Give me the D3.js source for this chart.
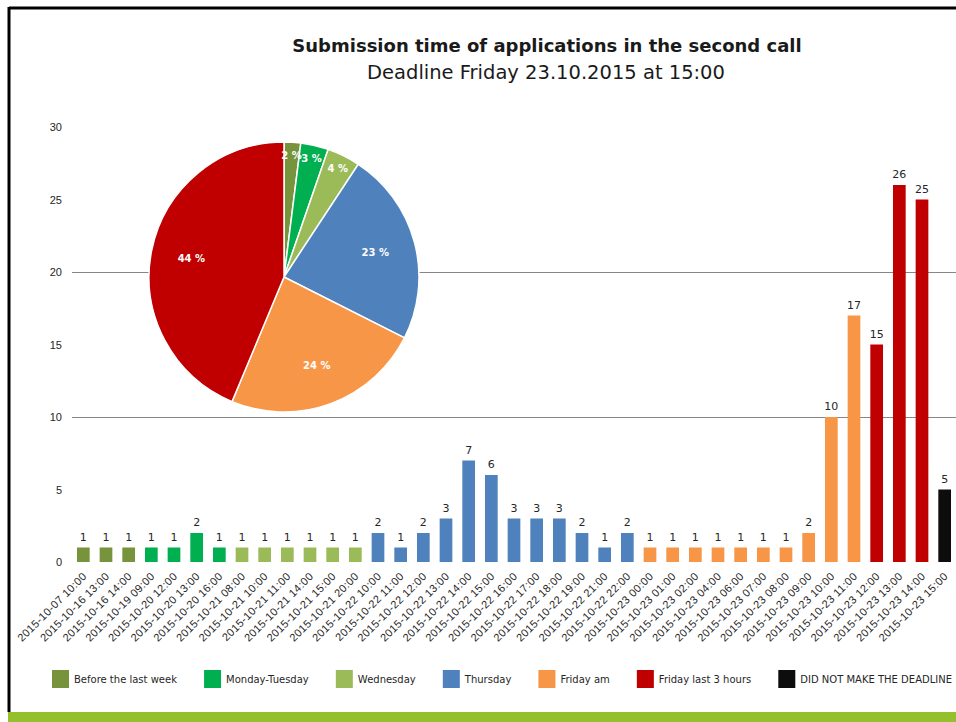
<!DOCTYPE html>
<html>
<head>
<meta charset="utf-8">
<script src="https://cdn.jsdelivr.net/npm/d3@7"></script>
<style>
  body { margin: 0; background: #fff; }
  svg { display: block; font-family: "DejaVu Sans", sans-serif; }
</style>
</head>
<body>
<div id="chartDIV"></div>
<script>

// bar data, one entry per submission hour
const categories = [
  "2015-10-07 10:00", "2015-10-16 13:00", "2015-10-16 14:00",
  "2015-10-19 09:00", "2015-10-20 12:00", "2015-10-20 13:00", "2015-10-20 16:00",
  "2015-10-21 08:00", "2015-10-21 10:00", "2015-10-21 11:00", "2015-10-21 14:00",
  "2015-10-21 15:00", "2015-10-21 20:00",
  "2015-10-22 10:00", "2015-10-22 11:00", "2015-10-22 12:00", "2015-10-22 13:00",
  "2015-10-22 14:00", "2015-10-22 15:00", "2015-10-22 16:00", "2015-10-22 17:00",
  "2015-10-22 18:00", "2015-10-22 19:00", "2015-10-22 21:00", "2015-10-22 22:00",
  "2015-10-23 00:00", "2015-10-23 01:00", "2015-10-23 02:00", "2015-10-23 04:00",
  "2015-10-23 06:00", "2015-10-23 07:00", "2015-10-23 08:00", "2015-10-23 09:00",
  "2015-10-23 10:00", "2015-10-23 11:00",
  "2015-10-23 12:00", "2015-10-23 13:00", "2015-10-23 14:00",
  "2015-10-23 15:00"
];
const counts = [
  1, 1, 1,
  1, 1, 2, 1,
  1, 1, 1, 1, 1, 1,
  2, 1, 2, 3, 7, 6, 3, 3, 3, 2, 1, 2,
  1, 1, 1, 1, 1, 1, 1, 2, 10, 17,
  15, 26, 25,
  5
];
const barGroup = [
  0, 0, 0,
  1, 1, 1, 1,
  2, 2, 2, 2, 2, 2,
  3, 3, 3, 3, 3, 3, 3, 3, 3, 3, 3, 3,
  4, 4, 4, 4, 4, 4, 4, 4, 4, 4,
  5, 5, 5,
  6
];

const groups = [
  "Before the last week", "Monday-Tuesday", "Wednesday", "Thursday",
  "Friday am", "Friday last 3 hours", "DID NOT MAKE THE DEADLINE"
];
const groupColors = ["#77933c", "#00b050", "#9bbb59", "#4f81bd", "#f79646", "#c00000", "#0d0d0d"];

const yTicks = [0, 5, 10, 15, 20, 25, 30];
const gridTicks = [10, 20];

const width = 956, height = 722;

let svg = d3.select("#chartDIV")
  .append("svg")
  .attr("width", width)
  .attr("height", height);

let x = d3.scaleBand().domain(categories).range([72, 956]).paddingInner(0.44).paddingOuter(0.22);
let y = d3.scaleLinear().domain([0, 30]).range([562, 127]);
let color = d3.scaleOrdinal().domain(d3.range(groups.length)).range(groupColors);

// frame
svg.append("rect").attr("x", 0).attr("y", 0).attr("width", width).attr("height", height).attr("fill", "#fff");
svg.append("line").attr("x1", 9).attr("x2", width).attr("y1", 8).attr("y2", 8)
  .attr("stroke", "#000").attr("stroke-width", 3);
svg.append("line").attr("x1", 9).attr("x2", 9).attr("y1", 7).attr("y2", 712)
  .attr("stroke", "#000").attr("stroke-width", 3);
svg.append("rect").attr("x", 8).attr("y", 712).attr("width", width - 8).attr("height", 10)
  .attr("fill", "#93c02b");

// titles
svg.append("text")
  .attr("x", 547).attr("y", 52)
  .attr("text-anchor", "middle")
  .style("font-size", "18px").style("font-weight", "bold").attr("fill", "#1a1a1a")
  .text("Submission time of applications in the second call");
svg.append("text")
  .attr("x", 546).attr("y", 79)
  .attr("text-anchor", "middle")
  .style("font-size", "19.5px").attr("fill", "#1a1a1a")
  .text("Deadline Friday 23.10.2015 at 15:00");

// gridlines
svg.append("g")
  .selectAll("line")
  .data(gridTicks)
  .enter()
  .append("line")
  .attr("x1", 72).attr("x2", 956)
  .attr("y1", d => Math.round(y(d)) + 0.5).attr("y2", d => Math.round(y(d)) + 0.5)
  .attr("stroke", "#868686");

// y axis labels only
let yAxis = svg.append("g")
  .attr("transform", "translate(62,0)")
  .call(d3.axisLeft(y).tickValues(yTicks).tickSize(0).tickPadding(0));
yAxis.select(".domain").remove();
yAxis.selectAll("text").style("font-size", "11px").attr("fill", "#262626").attr("font-family", null);

// x axis labels
let xAxis = svg.append("g")
  .attr("transform", "translate(0,562)")
  .call(d3.axisBottom(x).tickSize(0).tickPadding(0));
xAxis.select(".domain").remove();
xAxis.selectAll("text")
  .attr("font-family", null)
  .style("font-size", "11px")
  .style("letter-spacing", "0.35px")
  .attr("fill", "#262626")
  .attr("text-anchor", "end")
  .attr("dy", null)
  .attr("y", 0)
  .attr("transform", "translate(4,15) rotate(-45)");

// bars
let bars = categories.map((c, i) => ({ cat: c, value: counts[i], group: barGroup[i] }));

svg.append("g")
  .selectAll("rect")
  .data(bars)
  .enter()
  .append("rect")
  .attr("x", d => x(d.cat))
  .attr("width", x.bandwidth())
  .attr("y", d => y(d.value))
  .attr("height", d => y(0) - y(d.value))
  .attr("fill", d => color(d.group));

svg.append("g")
  .selectAll("text")
  .data(bars)
  .enter()
  .append("text")
  .attr("x", d => x(d.cat) + x.bandwidth() / 2)
  .attr("y", d => y(d.value) - 7)
  .attr("text-anchor", "middle")
  .style("font-size", "11px")
  .attr("fill", "#262626")
  .text(d => d.value);

// pie of group totals (only those that made the deadline)
let totals = d3.range(groups.length - 1).map(g =>
  d3.sum(bars.filter(b => b.group === g), b => b.value));
let sumAll = d3.sum(totals);

let radius = 135;
let pie = d3.pie().sort(null).value(d => d)(totals);
let arc = d3.arc().innerRadius(0).outerRadius(radius);

let pieG = svg.append("g").attr("transform", "translate(284,277)");
pieG.selectAll("path")
  .data(pie)
  .enter()
  .append("path")
  .attr("d", arc)
  .attr("fill", (d, i) => color(i))
  .attr("stroke", "#fff")
  .attr("stroke-width", 1.5);

pieG.selectAll("text")
  .data(pie)
  .enter()
  .append("text")
  .attr("transform", d => {
    let share = d.value / sumAll;
    let r = share > 0.1 ? radius * 0.7 : radius * 0.9;
    let a = (d.startAngle + d.endAngle) / 2;
    return "translate(" + (r * Math.sin(a)) + "," + (-r * Math.cos(a)) + ")";
  })
  .attr("text-anchor", "middle")
  .attr("dy", "0.35em")
  .style("font-size", "10px")
  .style("font-weight", "bold")
  .attr("fill", "#fff")
  .text(d => Math.round(d.value / sumAll * 100) + " %");

// legend, spread out so it runs from x=52 to x=952
let legend = svg.append("g").attr("transform", "translate(52,670)");
let items = groups.map((g, i) => {
  let item = legend.append("g");
  item.append("rect")
    .attr("width", 17).attr("height", 18)
    .attr("fill", color(i));
  let t = item.append("text")
    .attr("x", 22).attr("y", 9).attr("dy", "0.35em")
    .style("font-size", "10px")
    .attr("fill", "#262626")
    .text(g);
  return { item: item, w: 22 + t.node().getComputedTextLength() };
});
let gap = (900 - d3.sum(items, d => d.w)) / (items.length - 1);
let lx = 0;
items.forEach(d => {
  d.item.attr("transform", "translate(" + lx + ",0)");
  lx += d.w + gap;
});

</script>
</body>
</html>
